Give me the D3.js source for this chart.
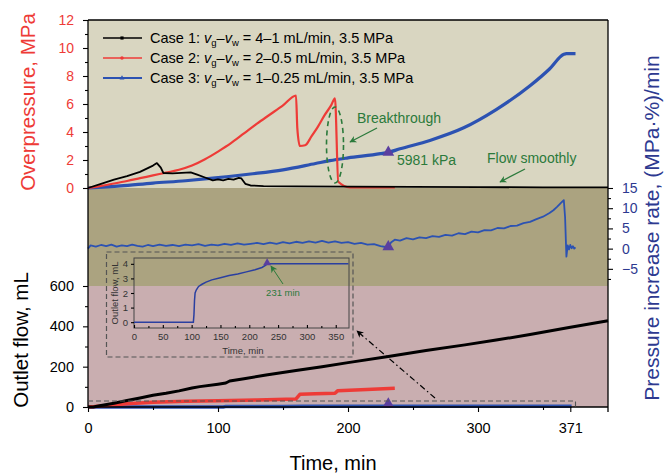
<!DOCTYPE html>
<html>
<head>
<meta charset="utf-8">
<script src="https://cdn.jsdelivr.net/npm/d3@7/dist/d3.min.js"></script>
<style>
body { margin: 0; background: #fff; }
text { font-family: Arial, "Liberation Sans", sans-serif; }
</style>
</head>
<body>
<svg width="665" height="474"></svg>
<script>
// ---- data ----
// top panel: overpressure, MPa
var c1PressT = [0, 10, 20, 30, 40, 50, 53, 56, 58, 65, 72, 79, 84, 90, 96, 100, 104, 108, 112, 116, 118, 121, 125, 135, 160, 200, 250, 300, 350, 400];
var c1PressV = [0, 0.3, 0.6, 0.85, 1.15, 1.6, 1.78, 1.45, 1.07, 1.05, 1.08, 1.12, 0.95, 0.75, 0.55, 0.62, 0.55, 0.65, 0.6, 0.72, 0.68, 0.3, 0.18, 0.14, 0.12, 0.1, 0.08, 0.06, 0.05, 0.05];

var c2PressT = [0, 10, 20, 30, 40, 50, 60, 70, 80, 90, 100, 110, 120, 130, 140, 150, 160, 161, 163, 167, 172, 177, 182, 187, 190, 192.5, 201.5, 236];
var c2PressV = [0, 0.15, 0.32, 0.5, 0.7, 0.9, 1.1, 1.3, 1.6, 2.05, 2.6, 3.2, 3.9, 4.6, 5.25, 5.9, 6.6, 4.3, 3.0, 3.05, 3.7, 4.4, 5.2, 5.9, 6.4, 0.45, 0.05, 0.05];

var c3PressT = [0, 25, 50, 75, 96, 125, 150, 175, 186, 200, 225, 231, 240, 263, 289, 314, 340, 355, 366, 368, 375];
var c3PressV = [0, 0.15, 0.35, 0.52, 0.7, 1.0, 1.3, 1.75, 1.95, 2.15, 2.45, 2.55, 2.8, 3.4, 4.3, 5.6, 7.3, 8.5, 9.55, 9.6, 9.6];

// middle panel: pressure increase rate of case 3, (MPa·%)/min
var rateT = [0, 2, 6, 10, 14, 18, 22, 26, 30, 34, 38, 42, 46, 50, 55, 60, 65, 70, 75, 80, 85, 90, 95, 100, 105, 110, 115, 120, 125, 130, 135, 140, 145, 150, 155, 160, 165, 170, 175, 180, 185, 190, 195, 200, 205, 210, 215, 220, 225, 229, 231, 233, 236, 240, 245, 250, 255, 260, 265, 270, 275, 280, 285, 290, 295, 300, 305, 310, 315, 320, 325, 330, 335, 340, 345, 350, 355, 358, 361, 364, 366, 367, 368, 369, 370, 371, 372, 373, 374, 375];
var rateV = [0, 0.8, 0.5, 0.9, 0.6, 1.0, 0.5, 0.8, 0.6, 1.0, 0.7, 0.5, 0.9, 0.6, 1.0, 0.7, 0.9, 0.6, 1.0, 0.8, 1.1, 0.7, 1.0, 0.8, 1.2, 0.9, 1.3, 1.0, 1.2, 1.4, 1.1, 1.5, 1.2, 1.6, 1.3, 1.7, 1.4, 1.8, 1.5, 1.9, 1.5, 1.8, 1.4, 1.6, 1.2, 1.4, 1.0, 1.1, 0.6, 0.4, 0.2, 1.5, 2.2, 2.0, 2.6, 2.3, 2.8, 2.6, 3.1, 2.9, 3.4, 3.2, 3.8, 3.6, 4.2, 4.0, 4.6, 4.5, 5.1, 5.0, 5.6, 5.7, 6.3, 6.6, 7.3, 7.9, 8.8, 9.5, 10.4, 11.4, 12.0, 7.7, -2.0, 0.8, -0.2, 0.9, 0.1, 0.6, 0.0, 0.3];

// bottom panel: outlet flow, mL
var c1FlowT = [0, 4, 10, 20, 30, 40, 50, 60, 70, 80, 86, 100, 106, 109, 120, 137, 160, 180, 200, 231, 260, 290, 314, 340, 370, 400];
var c1FlowV = [0, 0, 7, 19, 32, 45, 58, 68, 80, 94, 101, 113, 119, 129, 140, 159, 181, 200, 220, 250, 280, 308, 332, 359, 394, 428];

var c2FlowT = [0, 5, 15, 30, 50, 75, 100, 130, 160, 163, 175, 190, 192, 210, 236];
var c2FlowV = [0, 2, 8, 16, 24, 28, 31, 35, 40, 63, 66, 68, 80, 85, 93];

var c3FlowT = [0, 103, 104, 105, 106, 108, 112, 118, 125, 135, 150, 165, 180, 195, 210, 222, 228, 231, 240, 372];
var c3FlowV = [0, 0, 0.5, 1.5, 2.0, 2.2, 2.45, 2.6, 2.75, 2.9, 3.05, 3.2, 3.3, 3.45, 3.6, 3.75, 3.9, 4.0, 4.0, 4.0];

var markT = 231;  // breakthrough time, min

var timeTicks = [0, 100, 200, 300, 371];
var timeMinor = [50, 150, 250, 350];
var pressTicks = [0, 2, 4, 6, 8, 10, 12];
var rateTicks = [-5, 0, 5, 10, 15];
var flowTicks = [0, 200, 400, 600];
var insetTimeTicks = [0, 50, 100, 150, 200, 250, 300, 350];
var insetFlowTicks = [0, 1, 2, 3, 4];

var legendLabels = [
  {c: "Case 1: ", r: " = 4\u20131 mL/min, 3.5 MPa"},
  {c: "Case 2: ", r: " = 2\u20130.5 mL/min, 3.5 MPa"},
  {c: "Case 3: ", r: " = 1\u20130.25 mL/min, 3.5 MPa"}
];

// ---- drawing ----
var red = "#ee3b37", blue = "#2c52b2", navy = "#2d3990", green = "#2b7a3b", purple = "#5a3f9f";

var svg = d3.select("svg");
var x = d3.scaleLinear().domain([0, 400]).range([88, 608]);
var yP = d3.scaleLinear().domain([0, 12]).range([188, 20]);
var yR = d3.scaleLinear().domain([-9, 15]).range([285, 188]);
var yF = d3.scaleLinear().domain([0, 600]).range([407, 286]);

var xi = d3.scaleLinear().domain([0, 373]).range([134, 349]);
var yi = d3.scaleLinear().domain([-0.4, 4.4]).range([328, 258]);

var defs = svg.append("defs");
function arrowHead(id, color) {
  defs.append("marker")
    .attr("id", id)
    .attr("viewBox", "0 0 10 10")
    .attr("refX", 9).attr("refY", 5)
    .attr("markerWidth", 9).attr("markerHeight", 7)
    .attr("markerUnits", "userSpaceOnUse")
    .attr("orient", "auto")
    .append("path").attr("d", "M0,0 L10,5 L0,10 L3,5 Z").attr("fill", color);
}
arrowHead("ahGreen", green);
arrowHead("ahBlack", "#000");

// panel backgrounds
svg.append("rect").attr("x", 88).attr("y", yP(12)).attr("width", 520).attr("height", yP(0) - yP(12)).attr("fill", "#d9d6c1");
svg.append("rect").attr("x", 88).attr("y", yP(0)).attr("width", 520).attr("height", yF(600) - yP(0)).attr("fill", "#aba380");
svg.append("rect").attr("x", 88).attr("y", yF(600)).attr("width", 520).attr("height", yF(0) - yF(600)).attr("fill", "#c9aeb0");

function pts(t, v) { return d3.zip(t, v); }

// top panel curves
var lineP = d3.line().x(d => x(d[0])).y(d => yP(d[1]));
var smoothP = d3.line().x(d => x(d[0])).y(d => yP(d[1])).curve(d3.curveMonotoneX);
svg.append("path").datum(pts(c3PressT, c3PressV)).attr("d", smoothP)
  .attr("fill", "none").attr("stroke", blue).attr("stroke-width", 3.2).attr("stroke-linejoin", "round");
svg.append("path").datum(pts(c2PressT, c2PressV)).attr("d", smoothP)
  .attr("fill", "none").attr("stroke", red).attr("stroke-width", 2.2).attr("stroke-linejoin", "round");
svg.append("path").datum(pts(c1PressT, c1PressV)).attr("d", lineP)
  .attr("fill", "none").attr("stroke", "#000").attr("stroke-width", 1.8).attr("stroke-linejoin", "round");

// middle panel: rate
var lineR = d3.line().x(d => x(d[0])).y(d => yR(d[1]));
svg.append("path").datum(pts(rateT, rateV)).attr("d", lineR)
  .attr("fill", "none").attr("stroke", blue).attr("stroke-width", 1.8).attr("stroke-linejoin", "round");

// bottom panel: outlet flow
var lineF = d3.line().x(d => x(d[0])).y(d => yF(d[1]));
svg.append("path").datum(pts(c3FlowT, c3FlowV)).attr("d", lineF)
  .attr("fill", "none").attr("stroke", blue).attr("stroke-width", 3.5);
svg.append("path").datum(pts(c2FlowT, c2FlowV)).attr("d", lineF)
  .attr("fill", "none").attr("stroke", red).attr("stroke-width", 3.5).attr("stroke-linejoin", "round");
svg.append("path").datum(pts(c1FlowT, c1FlowV)).attr("d", lineF)
  .attr("fill", "none").attr("stroke", "#000").attr("stroke-width", 3).attr("stroke-linejoin", "round");

// breakthrough triangles
var tri = d3.symbol().type(d3.symbolTriangle).size(60);
var c3At = d3.zip(c3PressT, c3PressV).find(d => d[0] === markT)[1];
var rAt = d3.zip(rateT, rateV).find(d => d[0] === markT)[1];
[[x(markT), yP(c3At)], [x(markT), yR(rAt) - 1], [x(markT), yF(0) - 3]].forEach(function(p) {
  svg.append("path").attr("d", tri).attr("transform", "translate(" + p[0] + "," + p[1] + ")").attr("fill", purple);
});

// frame lines
svg.append("line").attr("x1", 88).attr("x2", 608).attr("y1", 20).attr("y2", 20).attr("stroke", "#000").attr("stroke-width", 1.3);
svg.append("line").attr("x1", 608).attr("x2", 608).attr("y1", 20).attr("y2", 412).attr("stroke", "#000").attr("stroke-width", 1.3);
svg.append("line").attr("x1", 88).attr("x2", 88).attr("y1", 20).attr("y2", 407).attr("stroke", "#000").attr("stroke-width", 1.3);
svg.append("line").attr("x1", 88).attr("x2", 608).attr("y1", 407).attr("y2", 407).attr("stroke", "#000").attr("stroke-width", 1.3);

function styleAxis(g, color, size) {
  g.select(".domain").remove();
  g.selectAll(".tick line").attr("stroke", "#000").attr("stroke-width", 1.1);
  g.selectAll(".tick text").attr("fill", color).style("font-size", size + "px")
    .style("font-family", "Arial, 'Liberation Sans', sans-serif");
}

// left axes
svg.append("g").attr("transform", "translate(88,0)")
  .call(d3.axisLeft(yP).tickValues(pressTicks).tickSize(5).tickPadding(9))
  .call(g => styleAxis(g, red, 14));
svg.append("g").attr("transform", "translate(88,0)")
  .call(d3.axisLeft(yP).tickValues(d3.range(1, 12, 2)).tickSize(3).tickFormat(""))
  .call(g => styleAxis(g, red, 14));
svg.append("g").attr("transform", "translate(88,0)")
  .call(d3.axisLeft(yF).tickValues(flowTicks).tickSize(5).tickPadding(9))
  .call(g => styleAxis(g, "#000", 14.5));
svg.append("g").attr("transform", "translate(88,0)")
  .call(d3.axisLeft(yF).tickValues([100, 300, 500]).tickSize(3).tickFormat(""))
  .call(g => styleAxis(g, "#000", 14.5));

// right axis (rate)
svg.append("g").attr("transform", "translate(608,0)")
  .call(d3.axisRight(yR).tickValues(rateTicks).tickSize(5).tickPadding(9).tickFormat(d => d < 0 ? "\u2212" + Math.abs(d) : d))
  .call(g => styleAxis(g, navy, 14));
svg.append("g").attr("transform", "translate(608,0)")
  .call(d3.axisRight(yR).tickValues([-7.5, -2.5, 2.5, 7.5, 12.5]).tickSize(3).tickFormat(""))
  .call(g => styleAxis(g, navy, 14));

// bottom axis
svg.append("g").attr("transform", "translate(0,407)")
  .call(d3.axisBottom(x).tickValues(timeTicks).tickSize(5).tickPadding(11))
  .call(g => styleAxis(g, "#000", 14.5));
svg.append("g").attr("transform", "translate(0,407)")
  .call(d3.axisBottom(x).tickValues(timeMinor).tickSize(3).tickFormat(""))
  .call(g => styleAxis(g, "#000", 14.5));

// axis titles
svg.append("text").attr("transform", "translate(35,102) rotate(-90)").attr("text-anchor", "middle")
  .style("font-size", "20.5px").attr("fill", red).text("Overpressure, MPa");
svg.append("text").attr("transform", "translate(28,340) rotate(-90)").attr("text-anchor", "middle")
  .style("font-size", "20.5px").attr("fill", "#000").text("Outlet flow, mL");
svg.append("text").attr("transform", "translate(659,228) rotate(-90)").attr("text-anchor", "middle")
  .style("font-size", "21px").attr("fill", navy).text("Pressure increase rate, (MPa\u00b7%)/min");
svg.append("text").attr("x", 333).attr("y", 470).attr("text-anchor", "middle")
  .style("font-size", "20px").attr("fill", "#000").text("Time, min");

// legend
var legColors = ["#000", red, blue];
var legSym = [d3.symbolSquare, d3.symbolCircle, d3.symbolTriangle];
legendLabels.forEach(function(l, i) {
  var yy = 38 + i * 20;
  svg.append("line").attr("x1", 103).attr("x2", 142).attr("y1", yy).attr("y2", yy)
    .attr("stroke", legColors[i]).attr("stroke-width", i === 2 ? 2.2 : 1.6);
  svg.append("path").attr("d", d3.symbol().type(legSym[i]).size(10))
    .attr("transform", "translate(122," + yy + ")").attr("fill", legColors[i]);
  var t = svg.append("text").attr("x", 150).attr("y", yy + 5).style("font-size", "14.5px").attr("fill", "#000");
  t.append("tspan").text(l.c);
  t.append("tspan").style("font-style", "italic").text("v");
  t.append("tspan").attr("dy", 3).style("font-size", "9.5px").text("g");
  t.append("tspan").attr("dy", -3).text("\u2013");
  t.append("tspan").style("font-style", "italic").text("v");
  t.append("tspan").attr("dy", 3).style("font-size", "9.5px").text("w");
  t.append("tspan").attr("dy", -3).text(l.r);
});

// annotations in top panel
svg.append("ellipse").attr("cx", x(190)).attr("cy", 145).attr("rx", 8.5).attr("ry", 38)
  .attr("fill", "none").attr("stroke", green).attr("stroke-width", 1.6).attr("stroke-dasharray", "5,4");
svg.append("text").attr("x", 357).attr("y", 123).style("font-size", "14px").attr("fill", green).text("Breakthrough");
svg.append("line").attr("x1", 377).attr("y1", 128).attr("x2", 350).attr("y2", 142)
  .attr("stroke", green).attr("stroke-width", 1.3).attr("marker-end", "url(#ahGreen)");
svg.append("text").attr("x", 397).attr("y", 165).style("font-size", "14px").attr("fill", green).text("5981 kPa");
svg.append("text").attr("x", 487).attr("y", 163).style("font-size", "14px").attr("fill", green).text("Flow smoothly");
svg.append("line").attr("x1", 525).attr("y1", 169).attr("x2", 500).attr("y2", 182)
  .attr("stroke", green).attr("stroke-width", 1.3).attr("marker-end", "url(#ahGreen)");

// dashed box around the case 3 flow, arrow to inset
svg.append("path").attr("d", "M" + x(0) + "," + (yF(0) - 6) + " H" + x(375) + " V" + yF(0))
  .attr("fill", "none").attr("stroke", "#555").attr("stroke-width", 1.1).attr("stroke-dasharray", "5,3");
svg.append("rect").attr("x", 106.5).attr("y", 252).attr("width", 246.5).attr("height", 105)
  .attr("fill", "none").attr("stroke", "#555").attr("stroke-width", 1.2).attr("stroke-dasharray", "5,3");
svg.append("line").attr("x1", 435).attr("y1", 398).attr("x2", 357).attr("y2", 331)
  .attr("stroke", "#000").attr("stroke-width", 1.2).attr("stroke-dasharray", "6,3,1.5,3")
  .attr("marker-end", "url(#ahBlack)");

// inset
var inset = svg.append("g");
inset.append("rect").attr("x", 134).attr("y", 258).attr("width", 215).attr("height", 70)
  .attr("fill", "none").attr("stroke", "#444").attr("stroke-width", 1);
inset.append("g").attr("transform", "translate(0,328)")
  .call(d3.axisBottom(xi).tickValues(insetTimeTicks).tickSizeInner(-3).tickSizeOuter(0).tickPadding(5))
  .call(g => styleAxis(g, "#333", 9.5));
inset.append("g").attr("transform", "translate(0,328)")
  .call(d3.axisBottom(xi).tickValues(d3.range(25, 375, 50)).tickSizeInner(-2).tickSizeOuter(0).tickFormat(""))
  .call(g => styleAxis(g, "#333", 9.5));
inset.append("g").attr("transform", "translate(134,0)")
  .call(d3.axisLeft(yi).tickValues(insetFlowTicks).tickSize(3).tickPadding(3).tickFormat(d3.format("d")))
  .call(g => styleAxis(g, "#333", 9.5));
inset.append("path").datum(pts(c3FlowT, c3FlowV))
  .attr("d", d3.line().x(d => xi(d[0])).y(d => yi(d[1])))
  .attr("fill", "none").attr("stroke", "#2a3fa0").attr("stroke-width", 1.5);
inset.append("path").attr("d", d3.symbol().type(d3.symbolTriangle).size(28))
  .attr("transform", "translate(" + xi(markT) + "," + (yi(4) - 1) + ")").attr("fill", purple);
inset.append("text").attr("transform", "translate(118,293) rotate(-90)").attr("text-anchor", "middle")
  .style("font-size", "9.5px").attr("fill", "#333").text("Outlet flow, mL");
inset.append("text").attr("x", 243).attr("y", 354).attr("text-anchor", "middle")
  .style("font-size", "9.5px").attr("fill", "#333").text("Time, min");
inset.append("text").attr("x", 283).attr("y", 296).attr("text-anchor", "middle")
  .style("font-size", "9.5px").attr("fill", green).text("231 min");
inset.append("line").attr("x1", 283).attr("y1", 284).attr("x2", 271).attr("y2", 266)
  .attr("stroke", green).attr("stroke-width", 1).attr("marker-end", "url(#ahGreen)");
</script>
</body>
</html>
